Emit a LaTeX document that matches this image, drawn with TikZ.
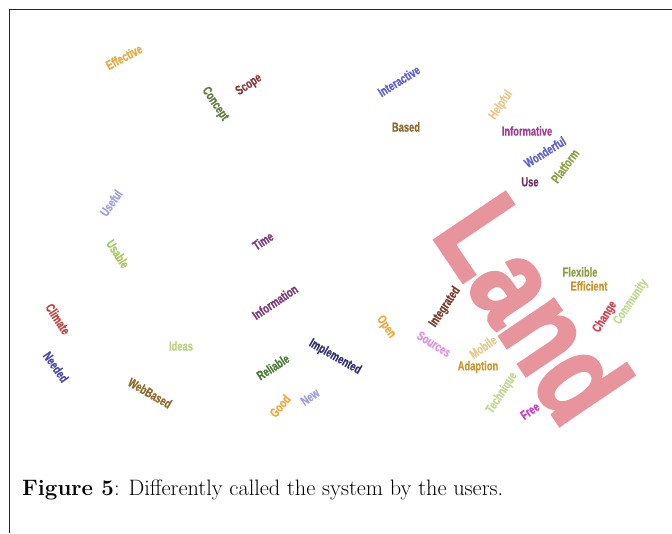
\documentclass[tikz,border=0pt]{standalone}
\usepackage{fontspec}
\newfontfamily\cloudfont{Liberation Sans}[UprightFont=* Bold, FakeStretch=0.72, FakeBold=0.6]
\newfontfamily\landfont{Liberation Sans}[UprightFont=* Bold, FakeStretch=0.8, FakeBold=2.5]

\definecolor{wpink}{RGB}{232,148,156}
\definecolor{worange}{RGB}{232,168,64}
\definecolor{wgreen}{RGB}{94,122,60}
\definecolor{wdarkred}{RGB}{139,58,58}
\definecolor{wblue}{RGB}{96,96,208}
\definecolor{wtan}{RGB}{232,200,140}
\definecolor{wbrown}{RGB}{139,106,42}
\definecolor{wpurple}{RGB}{160,64,144}
\definecolor{wolive}{RGB}{138,160,64}
\definecolor{wplum}{RGB}{106,48,96}
\definecolor{wgold}{RGB}{200,152,48}
\definecolor{wlightgreen}{RGB}{192,216,144}
\definecolor{wcrimson}{RGB}{208,64,80}
\definecolor{wrust}{RGB}{122,58,42}
\definecolor{wviolet}{RGB}{224,144,224}
\definecolor{wmagenta}{RGB}{192,64,192}
\definecolor{wnavy}{RGB}{48,48,112}
\definecolor{wlavender}{RGB}{160,160,224}
\definecolor{wlime}{RGB}{168,200,96}
\definecolor{wgrape}{RGB}{122,58,122}
\definecolor{wred}{RGB}{192,64,64}
\definecolor{windigo}{RGB}{72,72,168}
\definecolor{wdarkgreen}{RGB}{74,122,58}

\begin{document}
\begin{tikzpicture}[
        x=1pt, y=-1pt,
        word/.style={inner sep=0pt, font={\cloudfont\fontsize{13}{13}\selectfont}},
        bigword/.style={inner sep=0pt, font={\landfont\fontsize{124}{124}\selectfont}},
        caption/.style={inner sep=0pt, anchor=base west, font={\fontsize{22.3}{26}\selectfont}}
      ]
      \useasboundingbox (0,0) rectangle (672,533);
      \draw[line width=1.3pt, black!85] (9.5,533) -- (9.5,9.5) -- (672,9.5);

      % the big one
      \node[bigword, wpink, rotate=-56] (land) at (534,308) {Land};

      % upper left
      \node[word, worange, rotate=28] (effective) at (124,57) {Effective};
      \node[word, wgreen, rotate=-56] (concept) at (215,104) {Concept};
      \node[word, wdarkred, rotate=34] (scope) at (249,85) {Scope};
      \node[word, wlavender, rotate=55] (useful) at (111,203) {Useful};
      \node[word, wlime, rotate=-57] (usable) at (118,254) {Usable};

      % upper right
      \node[word, wblue, rotate=32] (interactive) at (399,81) {Interactive};
      \node[word, wtan, rotate=56] (helpful) at (501,105) {Helpful};
      \node[word, wbrown] (based) at (406,127) {Based};
      \node[word, wpurple] (informative) at (527,131) {Informative};
      \node[word, wblue, rotate=32] (wonderful) at (545,152) {Wonderful};
      \node[word, wolive, rotate=54] (platform) at (565,166) {Platform};
      \node[word, wplum] (use) at (530,182) {Use};

      % middle
      \node[word, wgrape, rotate=33] (time) at (263,241) {Time};
      \node[word, wgrape, rotate=34] (information) at (275,302) {Information};
      \node[word, wnavy, rotate=-30] (implemented) at (335,357) {Implemented};
      \node[word, wdarkgreen, rotate=33] (reliable) at (273,367) {Reliable};
      \node[word, worange, rotate=50] (good) at (280,406) {Good};
      \node[word, wlavender, rotate=35] (new) at (310,397) {New};

      % lower left
      \node[word, wred, rotate=-57] (climate) at (58,319) {Climate};
      \node[word, windigo, rotate=-55] (needed) at (56,367) {Needed};
      \node[word, wlime!80!white] (ideas) at (181,346) {Ideas};
      \node[word, wbrown, rotate=-30] (webbased) at (150,393) {WebBased};

      % around Land
      \node[word, wolive] (flexible) at (580,272) {Flexible};
      \node[word, wgold] (efficient) at (589,286) {Efficient};
      \node[word, wlightgreen, rotate=56] (community) at (631,302) {Community};
      \node[word, wcrimson, rotate=58] (change) at (605,317) {Change};
      \node[word, wrust, rotate=56] (integrated) at (445,307) {Integrated};
      \node[word, worange, rotate=-55] (open) at (386,327) {Open};
      \node[word, wviolet, rotate=-32] (sources) at (434,344) {Sources};
      \node[word, wtan, rotate=35] (mobile) at (483,347) {Mobile};
      \node[word, wgold] (adaption) at (478,367) {Adaption};
      \node[word, wlightgreen, rotate=57] (technique) at (502,393) {Technique};
      \node[word, wmagenta, rotate=35] (free) at (530,411) {Free};

      \node[caption] (fig) at (22,495) {\textbf{Figure 5}: Differently called the system by the users.};
    \end{tikzpicture}
\end{document}
